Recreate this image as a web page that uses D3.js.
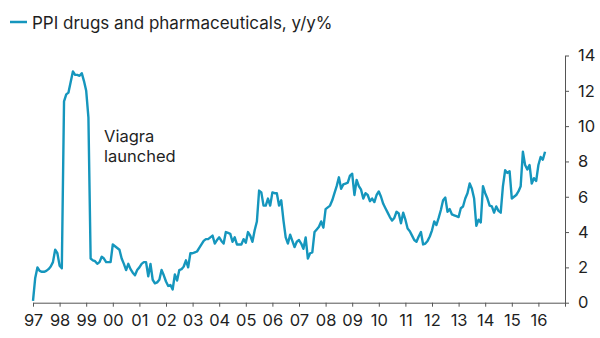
<!DOCTYPE html>
<html>
<head>
<meta charset="utf-8">
<script src="https://cdn.jsdelivr.net/npm/d3@7"></script>
<style>
  html, body { margin: 0; padding: 0; background: #fff; }
  svg { display: block; }
  text { font-family: Inter, "Liberation Sans", Arial, sans-serif; fill: #1f1f1f; }
</style>
</head>
<body>
<svg id="chart" width="600" height="338"></svg>
<script>
// ---- data (monthly, Jan 1997 .. Apr 2016), PPI drugs & pharmaceuticals y/y % ----
const startYear = 1997;
const seriesName = "PPI drugs and pharmaceuticals, y/y%";
const annotation = ["Viagra", "launched"];
const ppiYoY = [
  // 1997
  0.1, 1.4, 2.0, 1.8, 1.75, 1.75, 1.8, 1.9, 2.05, 2.3, 3.0, 2.8,
  // 1998
  2.1, 1.95, 11.4, 11.8, 11.9, 12.5, 13.1, 12.9, 12.9, 12.85, 13.0, 12.55,
  // 1999
  12.0, 10.5, 2.5, 2.4, 2.35, 2.2, 2.3, 2.6, 2.5, 2.3, 2.3, 2.3,
  // 2000
  3.3, 3.2, 3.1, 3.0, 2.5, 2.2, 1.85, 2.2, 1.9, 1.7, 1.55, 1.85,
  // 2001
  2.0, 2.2, 2.3, 2.3, 1.5, 2.2, 1.3, 1.1, 1.15, 1.3, 1.85, 1.55,
  // 2002
  1.2, 0.95, 1.0, 0.75, 1.6, 1.25, 1.85, 1.9, 2.05, 2.4, 2.0, 2.8,
  // 2003
  2.8, 2.85, 2.9, 3.1, 3.3, 3.5, 3.6, 3.6, 3.7, 3.8, 3.35, 3.55,
  // 2004
  3.7, 3.5, 3.35, 4.0, 3.95, 3.9, 3.45, 3.7, 3.3, 3.3, 3.3, 3.6,
  // 2005
  3.4, 4.0, 3.8, 3.45, 4.1, 4.6, 6.35, 6.25, 5.5, 5.5, 5.9, 5.5,
  // 2006
  6.25, 6.2, 6.2, 5.5, 5.8, 4.65, 3.7, 3.35, 3.85, 3.5, 3.15, 3.45,
  // 2007
  3.55, 3.35, 3.05, 3.7, 2.5, 2.8, 2.85, 4.0, 4.15, 4.3, 4.6, 4.25,
  // 2008
  5.3, 5.4, 5.5, 5.8, 6.2, 6.6, 7.1, 6.45, 6.7, 6.75, 6.8, 7.2,
  // 2009
  7.3, 6.1, 6.95, 6.6, 6.4, 5.9, 6.2, 6.1, 5.75, 5.9, 5.7, 6.1,
  // 2010
  6.3, 6.0, 5.6, 5.35, 5.1, 4.85, 4.65, 4.8, 5.15, 5.05, 4.5, 5.1,
  // 2011
  4.7, 4.2, 4.05, 3.8, 3.55, 3.45, 3.75, 4.0, 3.3, 3.35, 3.5, 3.75,
  // 2012
  4.1, 4.6, 4.4, 4.8, 5.25, 5.8, 5.95, 5.15, 5.3, 5.0, 4.95, 4.9,
  // 2013
  4.85, 5.35, 5.45, 5.9, 6.2, 6.75, 6.45, 5.9, 4.35, 4.7, 4.55, 6.6,
  // 2014
  6.2, 5.9, 5.5, 5.45, 5.1, 5.45, 5.2, 5.1, 6.6, 7.5, 7.35, 7.45,
  // 2015
  5.9, 6.0, 6.1, 6.3, 6.6, 8.55, 7.8, 7.55, 7.8, 6.75, 7.05, 6.9,
  // 2016
  7.8, 8.25, 8.1, 8.55
];
const xTickYears = [1997,1998,1999,2000,2001,2002,2003,2004,2005,2006,2007,2008,2009,2010,2011,2012,2013,2014,2015,2016,2017];
const xTickLabels = ["97","98","99","00","01","02","03","04","05","06","07","08","09","10","11","12","13","14","15","16",""];
const yTicks = [0, 2, 4, 6, 8, 10, 12, 14];

// ---- drawing ----
const lineColor = "#1596bd";
const axisColor = "#555";
const svg = d3.select("#chart");

const x = d3.scaleLinear().domain([1997, 2017]).range([33, 565]);
const y = d3.scaleLinear().domain([0, 14]).range([302.7, 55.5]);

const data = ppiYoY.map((v, i) => ({ t: startYear + i / 12, v }));

// x axis
const xAxis = d3.axisBottom(x)
  .tickValues(xTickYears)
  .tickFormat((d, i) => xTickLabels[i])
  .tickSize(4)
  .tickSizeOuter(0)
  .tickPadding(8);
const gx = svg.append("g").attr("transform", `translate(0,${y(0)})`).call(xAxis);
gx.select(".domain").attr("stroke", axisColor);
gx.selectAll(".tick line").attr("stroke", axisColor);
gx.selectAll("text").style("font-size", "16.5px").attr("fill", "#1f1f1f")
  .style("font-family", "Inter, 'Liberation Sans', Arial, sans-serif");

// y axis (right)
const yAxis = d3.axisRight(y)
  .tickValues(yTicks)
  .tickFormat(d3.format("d"))
  .tickSize(4)
  .tickSizeOuter(0)
  .tickPadding(9);
const gy = svg.append("g").attr("transform", `translate(${x(2017)},0)`).call(yAxis);
gy.select(".domain").attr("stroke", axisColor);
gy.selectAll(".tick line").attr("stroke", axisColor);
gy.selectAll("text").style("font-size", "16.5px").attr("fill", "#1f1f1f")
  .style("font-family", "Inter, 'Liberation Sans', Arial, sans-serif");

// series line
const line = d3.line().x(d => x(d.t)).y(d => y(d.v)).curve(d3.curveLinear);
svg.append("path")
  .datum(data)
  .attr("fill", "none")
  .attr("stroke", lineColor)
  .attr("stroke-width", 2.4)
  .attr("stroke-linejoin", "round")
  .attr("d", line);

// legend
const lg = svg.append("g");
lg.append("line").attr("x1", 10).attr("x2", 27).attr("y1", 22).attr("y2", 22)
  .attr("stroke", lineColor).attr("stroke-width", 2.5);
lg.append("text").attr("x", 32).attr("y", 29).style("font-size", "17px").text(seriesName);

// annotation
const ann = svg.append("text").attr("x", 104).attr("y", 141.5).style("font-size", "16.5px");
ann.selectAll("tspan").data(annotation).join("tspan")
  .attr("x", 104).attr("dy", (d, i) => i === 0 ? 0 : 20.5).text(d => d);
</script>
</body>
</html>
